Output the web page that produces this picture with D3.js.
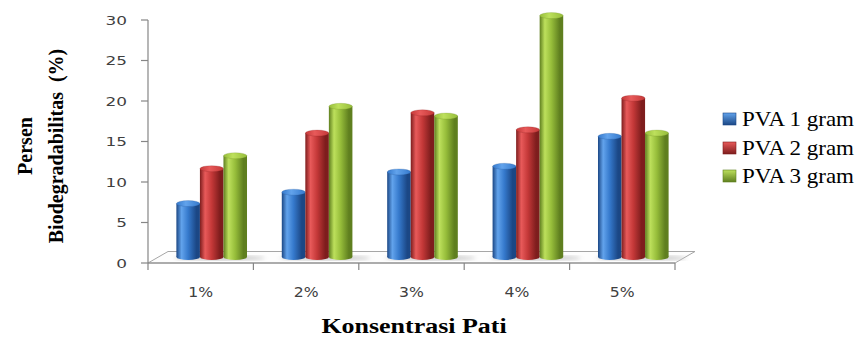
<!DOCTYPE html>
<html>
<head>
<meta charset="utf-8">
<script src="https://cdn.jsdelivr.net/npm/d3@7"></script>
<style>
  html, body { margin: 0; padding: 0; background: #fff; }
  svg { display: block; }
  .serif { font-family: "Liberation Serif", "Times New Roman", Times, serif; }
  .sans { font-family: "DejaVu Sans", Verdana, sans-serif; }
</style>
</head>
<body>
<svg id="chart" width="855" height="338"></svg>
<script>
// Biodegradability by starch concentration and PVA amount
const categories = ["1%", "2%", "3%", "4%", "5%"];
const seriesNames = ["PVA 1 gram", "PVA 2 gram", "PVA 3 gram"];
const pva1 = [6.6, 8.0, 10.5, 11.2, 14.9];
const pva2 = [10.9, 15.3, 17.8, 15.7, 19.6];
const pva3 = [12.5, 18.6, 17.4, 29.8, 15.3];
const yTicks = [0, 5, 10, 15, 20, 25, 30];

const seriesValues = [pva1, pva2, pva3];
const palette = [
  { dark: "#1b4785", mid: "#3579cc", light: "#62a3ec" },
  { dark: "#7e1d1d", mid: "#c43838", light: "#e85a5a" },
  { dark: "#5f7f1f", mid: "#96bd3a", light: "#bde05c" }
];

const svg = d3.select("#chart");
const defs = svg.append("defs");

// plot frame
const left = 148, right = 675, baseY = 263, topY = 20;
const depthX = 20, depthY = -11.5;
const midDX = 11, midDY = -6;

const x = d3.scaleBand().domain(categories).range([left, right])
  .paddingInner(0.33).paddingOuter(0.165);
const xs = d3.scaleBand().domain(d3.range(3)).range([0, x.bandwidth()]);
const y = d3.scaleLinear().domain([0, 30]).range([baseY, topY]);

// gradients for cylinders, caps and legend keys
palette.forEach((c, i) => {
  const g = defs.append("linearGradient").attr("id", "cyl" + i)
    .attr("x1", "0%").attr("x2", "100%").attr("y1", "0%").attr("y2", "0%");
  g.append("stop").attr("offset", "0%").attr("stop-color", c.dark);
  g.append("stop").attr("offset", "22%").attr("stop-color", c.light);
  g.append("stop").attr("offset", "50%").attr("stop-color", c.mid);
  g.append("stop").attr("offset", "85%").attr("stop-color", c.dark);
  g.append("stop").attr("offset", "100%").attr("stop-color", c.dark);
  const t = defs.append("linearGradient").attr("id", "cap" + i)
    .attr("x1", "0%").attr("x2", "100%");
  t.append("stop").attr("offset", "0%").attr("stop-color", c.mid);
  t.append("stop").attr("offset", "40%").attr("stop-color", c.light);
  t.append("stop").attr("offset", "100%").attr("stop-color", c.mid);
  const s = defs.append("linearGradient").attr("id", "sq" + i)
    .attr("x1", "0%").attr("x2", "0%").attr("y1", "0%").attr("y2", "100%");
  s.append("stop").attr("offset", "0%").attr("stop-color", c.light);
  s.append("stop").attr("offset", "100%").attr("stop-color", c.dark);
});
defs.append("filter").attr("id", "soft")
  .append("feGaussianBlur").attr("stdDeviation", 2);

// floor
const floorPts = [[left, baseY], [right, baseY], [right + depthX, baseY + depthY], [left + depthX, baseY + depthY]];
svg.append("polygon")
  .attr("points", floorPts.map(p => p.join(",")).join(" "))
  .attr("fill", "#fdfdfd").attr("stroke", "#a6a6a6").attr("stroke-width", 1);

// soft shadows cast on the floor
categories.forEach(cat => {
  const gx = x(cat) + midDX;
  svg.append("ellipse")
    .attr("cx", gx + x.bandwidth() / 2 + 8).attr("cy", y(0) + midDY + 1)
    .attr("rx", x.bandwidth() / 2 + 10).attr("ry", 2.5)
    .attr("fill", "#c8c8c8").attr("filter", "url(#soft)");
});

// axes
const axisColor = "#868686";
svg.append("line").attr("x1", left).attr("x2", left).attr("y1", topY).attr("y2", baseY)
  .attr("stroke", axisColor).attr("stroke-width", 1.2);
const yAxis = svg.append("g");
yTicks.forEach(v => {
  yAxis.append("line").attr("x1", left - 7).attr("x2", left)
    .attr("y1", y(v)).attr("y2", y(v)).attr("stroke", axisColor).attr("stroke-width", 1.2);
  yAxis.append("text").attr("class", "sans")
    .attr("transform", `translate(127,${y(v) + 4.5}) scale(1.3,1)`)
    .attr("text-anchor", "end").attr("font-size", 13)
    .attr("fill", "#404040").text(v);
});

const bounds = [left].concat(categories.map(c => x(c) + x.bandwidth() + x.paddingInner() * x.step() / 2));
bounds[bounds.length - 1] = right;
bounds.forEach(bx => {
  svg.append("line").attr("x1", bx).attr("x2", bx).attr("y1", baseY).attr("y2", baseY + 7)
    .attr("stroke", axisColor).attr("stroke-width", 1.2);
});
svg.append("line").attr("x1", left).attr("x2", right).attr("y1", baseY).attr("y2", baseY)
  .attr("stroke", axisColor).attr("stroke-width", 1.2);

categories.forEach(cat => {
  svg.append("text").attr("class", "sans")
    .attr("transform", `translate(${x(cat) + x.bandwidth() / 2},${297}) scale(1.12,1)`)
    .attr("text-anchor", "middle").attr("font-size", 14)
    .attr("fill", "#404040").text(cat);
});

// cylinders
const ry = 3;
categories.forEach((cat, ci) => {
  seriesValues.forEach((vals, si) => {
    const w = xs.bandwidth();
    const bx = x(cat) + xs(si) + midDX;
    const bottom = y(0) + midDY;
    const top = y(vals[ci]) + midDY;
    const g = svg.append("g");
    g.append("ellipse").attr("cx", bx + w / 2).attr("cy", bottom)
      .attr("rx", w / 2).attr("ry", ry).attr("fill", "url(#cyl" + si + ")");
    g.append("rect").attr("x", bx).attr("y", top).attr("width", w).attr("height", bottom - top)
      .attr("fill", "url(#cyl" + si + ")");
    g.append("ellipse").attr("cx", bx + w / 2).attr("cy", top)
      .attr("rx", w / 2).attr("ry", ry).attr("fill", "url(#cap" + si + ")")
      .attr("stroke", palette[si].dark).attr("stroke-opacity", 0.35).attr("stroke-width", 0.6);
  });
});

// axis titles
const yTitle = svg.append("text").attr("class", "serif")
  .attr("font-weight", "bold").attr("font-size", 20).attr("fill", "#000")
  .attr("text-anchor", "middle")
  .attr("transform", "translate(0,146) rotate(-90)");
yTitle.append("tspan").attr("x", 0).attr("y", 32).text("Persen");
yTitle.append("tspan").attr("x", 0).attr("y", 63)
  .style("white-space", "pre").text("Biodegradabilitas  (%)");

svg.append("text").attr("class", "serif")
  .attr("transform", "translate(414,333) scale(1.18,1)")
  .attr("text-anchor", "middle")
  .attr("font-weight", "bold").attr("font-size", 22).attr("fill", "#000")
  .text("Konsentrasi Pati");

// legend
const legendY = [119, 148, 176];
seriesNames.forEach((name, i) => {
  svg.append("rect").attr("x", 723).attr("y", legendY[i] - 6).attr("width", 13).attr("height", 12)
    .attr("fill", "url(#sq" + i + ")").attr("stroke", palette[i].dark).attr("stroke-width", 0.6);
  svg.append("text").attr("class", "serif")
    .attr("transform", `translate(742,${legendY[i] + 7}) scale(1.15,1)`)
    .attr("font-size", 20).attr("fill", "#000").text(name);
});
</script>
</body>
</html>
